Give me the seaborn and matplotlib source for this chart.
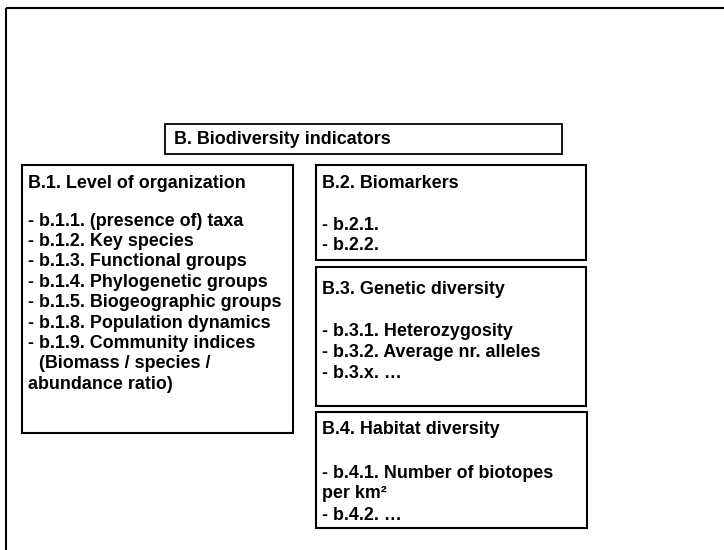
import matplotlib
matplotlib.use("Agg")
import matplotlib.pyplot as plt
from matplotlib.patches import Rectangle
import seaborn as sns

# ---- content (text of the diagram) ----
title_text = "B. Biodiversity indicators"

b1_header = "B.1. Level of organization"
b1_items = [
    "- b.1.1. (presence of) taxa",
    "- b.1.2. Key species",
    "- b.1.3. Functional groups",
    "- b.1.4. Phylogenetic groups",
    "- b.1.5. Biogeographic groups",
    "- b.1.8. Population dynamics",
    "- b.1.9. Community indices",
    "(Biomass / species /",
    "abundance ratio)",
]
b1_indent = [0, 0, 0, 0, 0, 0, 0, 1, 0]

b2_header = "B.2. Biomarkers"
b2_items = ["- b.2.1.", "- b.2.2."]

b3_header = "B.3. Genetic diversity"
b3_items = ["- b.3.1. Heterozygosity", "- b.3.2. Average nr. alleles", "- b.3.x. \u2026"]

b4_header = "B.4. Habitat diversity"
b4_items = ["- b.4.1. Number of biotopes", "per km\u00b2", "- b.4.2. \u2026"]

# ---- layout (pixel coordinates, y downward) ----
W, H = 724, 550
LW = 1.5
FS = 12.9

sns.set_theme(style="white")
plt.rcParams["font.family"] = ["Liberation Sans", "DejaVu Sans"]

fig = plt.figure(figsize=(W / 100, H / 100), dpi=100)
ax = fig.add_axes([0, 0, 1, 1])
ax.set_xlim(0, W)
ax.set_ylim(H, 0)
ax.axis("off")


def box(x0, y0, x1, y1, lw=LW):
    ax.add_patch(Rectangle((x0, y0), x1 - x0, y1 - y0, fill=False,
                           edgecolor="black", linewidth=lw, zorder=2))


def txt(x, yc, s):
    ax.text(x, yc + 5.5, s, fontsize=FS, fontweight="bold", color="black",
            ha="left", va="baseline", zorder=3)


# outer frame (continues beyond the right and bottom edges)
box(6, 8, W + 20, H + 20)

# title box
box(165, 124, 562, 154, lw=1.3)
txt(174, 139, title_text)

sections = [
    # (box, text x, header centre y, first item centre y, spacing, header, items, indents)
    ((22, 165, 293, 433), 28, 183, 220, 20.4, b1_header, b1_items, b1_indent),
    ((316, 165, 586, 260), 322, 183, 224, 21.0, b2_header, b2_items, None),
    ((316, 267, 586, 406), 322, 289, 331, 20.5, b3_header, b3_items, None),
    ((316, 412, 587, 528), 322, 428, 472, 21.0, b4_header, b4_items, None),
]

for (x0, y0, x1, y1), tx, hy, fy, sp, header, items, indents in sections:
    box(x0, y0, x1, y1)
    txt(tx, hy, header)
    for i, s in enumerate(items):
        dx = 11 if (indents is not None and indents[i]) else 0
        txt(tx + dx, fy + i * sp, s)

fig.savefig("out.png", dpi=100, facecolor="white")
